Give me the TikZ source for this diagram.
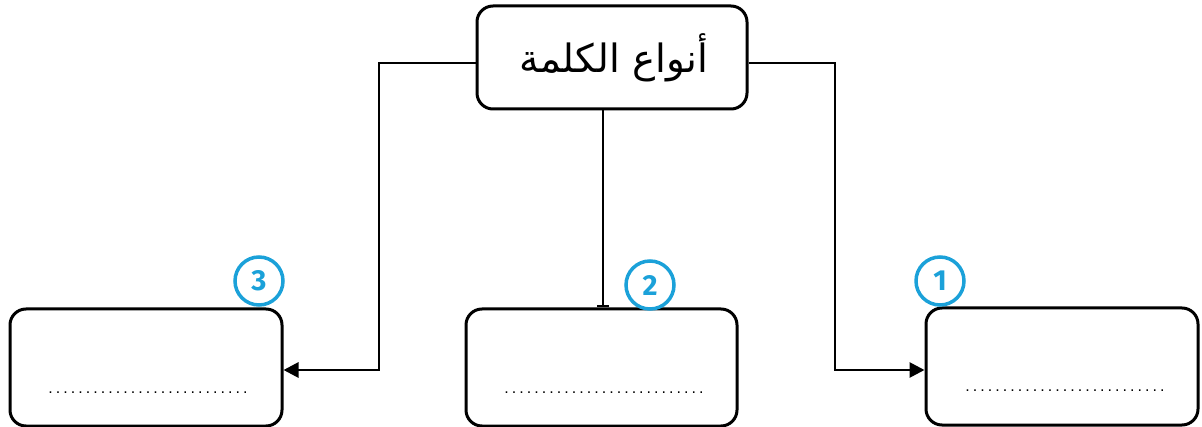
\documentclass[tikz,border=0pt]{standalone}
\usepackage{fontspec}
\setmainfont{Liberation Sans}
\newfontfamily\arabicfont[Script=Arabic]{DejaVu Sans}
\newfontfamily\dotfont[LetterSpace=19]{Liberation Sans}
\newfontfamily\numfont{Fira Sans}
\TeXXeTstate=1
\usetikzlibrary{arrows.meta}
\definecolor{numblue}{HTML}{1BA1D9}
\tikzset{
  box/.style={draw=black, line width=3pt, rounded corners=16pt, fill=white, inner sep=0pt},
  conn/.style={draw=black, line width=2.8pt},
  tip/.style={-{Triangle[length=15pt,width=15pt]}},
  numc/.style={circle, draw=numblue, line width=3.5pt, minimum size=48pt, inner sep=0pt,
    text=numblue, font=\numfont\fontsize{29}{29}\selectfont},
  dots/.style={font=\dotfont\fontsize{16}{16}\selectfont, inner sep=0pt}
}
\begin{document}
\begin{tikzpicture}[x=1pt,y=-1pt]
\useasboundingbox (0,0) rectangle (1202,427);
\node[box, minimum width=270pt, minimum height=103pt] (top) at (612,57.5) {};
\node (title) at (614,58) {\arabicfont\fontsize{39}{39}\selectfont\beginR أنواع الكلمة\endR};
\node[box, minimum width=272pt, minimum height=117pt] (left) at (146,367.5) {};
\node[box, minimum width=271pt, minimum height=117pt] (mid) at (601.5,367.5) {};
\node[box, minimum width=272pt, minimum height=117pt] (right) at (1062,366.5) {};
\coordinate (bl) at (379,370);
\coordinate (br) at (835,370);
\coordinate (mx) at (603,0);
\draw[conn,tip] ([yshift=-5.5pt]top.west) -| (bl) -- (left.east |- bl);
\draw[conn,tip] ([yshift=-5.5pt]top.east) -| (br) -- (right.west |- br);
\draw[conn,-{Bar[width=12pt,line width=2.5pt]}] (top.south -| mx) -- (mid.north -| mx);
\node[numc, fill=white] (n3) at (259,281) {\bfseries 3};
\node[numc, fill=white] (n2) at (650,285) {\bfseries 2};
\node[numc, fill=white] (n1) at (940,281) {\bfseries 1};
\node[dots] (d3) at (148,393) {...........................};
\node[dots] (d2) at (604,393) {...........................};
\node[dots] (d1) at (1065,391) {...........................};
\end{tikzpicture}
\end{document}
